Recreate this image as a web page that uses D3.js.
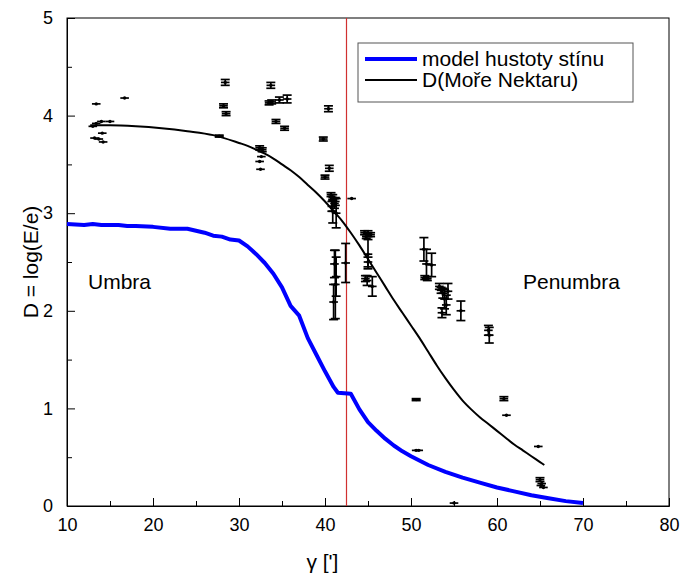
<!DOCTYPE html>
<html><head><meta charset="utf-8">
<script src="https://cdn.jsdelivr.net/npm/d3@7"></script>
<style>body{margin:0;background:#fff}svg{display:block;font-family:"Liberation Sans",Arial,sans-serif}</style>
</head><body>
<svg id="c" width="680" height="579"></svg>
<script>
// Model curve (blue)
const modelGamma = [10,12,13,14,16,17,18,20,22,24,25,26,27,28,29,30,31,32,33,34,35,36,37,38,39,40,41,41.5,43,44,45,46,47,48,49,50,52,54,56,58,60,62,64,66,68,70];
const modelD     = [2.89,2.88,2.89,2.88,2.88,2.87,2.87,2.86,2.84,2.84,2.82,2.80,2.77,2.76,2.73,2.72,2.66,2.58,2.49,2.38,2.24,2.05,1.95,1.72,1.55,1.38,1.22,1.16,1.15,0.99,0.86,0.77,0.69,0.62,0.56,0.51,0.42,0.35,0.29,0.24,0.19,0.15,0.11,0.08,0.05,0.03];
// D(Moře Nektaru) curve (black)
const nekGamma = [12.7,15,18,21,24,27,30,31,32,33,34,35,36,37,38,39,40,41,42,43,44,45,46,47,48,49,50,51,52,53,54,55,56,57,58,59,60,61,62,63,64,65,65.5];
const nekD     = [3.90,3.90,3.89,3.87,3.84,3.80,3.72,3.69,3.65,3.61,3.56,3.50,3.44,3.37,3.29,3.21,3.12,3.02,2.92,2.80,2.67,2.53,2.39,2.25,2.11,1.98,1.85,1.72,1.58,1.44,1.31,1.19,1.08,0.99,0.91,0.84,0.77,0.70,0.63,0.57,0.51,0.45,0.42];
// Measured points
const ptGamma = [13.4,16.7,15.0,14.0,13.4,13.0,14.1,13.2,13.7,14.2,
  28.4,28.2,28.5,27.7,33.7,33.5,33.8,34.7,35.6,34.3,35.3,32.4,32.7,32.6,32.4,32.5,
  40.4,39.8,40.5,40.0,40.7,40.9,41.1,40.8,41.2,40.9,41.3,43.1,
  41.1,41.3,41.2,41.0,42.4,
  44.6,45.0,45.3,44.8,45.0,45.0,44.9,45.5,44.7,
  51.5,51.8,52.4,51.6,51.9,53.3,53.5,53.7,53.9,54.1,53.6,54.3,55.8,
  50.6,60.8,61.1,64.8,50.6,50.9,65.0,65.2,65.4,65.1,55.0,59.0,59.1];
const ptD = [4.12,4.18,3.94,3.94,3.92,3.89,3.82,3.77,3.76,3.73,
  4.34,4.10,4.02,3.79,4.31,4.13,4.14,4.16,4.17,3.94,3.87,3.67,3.65,3.58,3.53,3.45,
  4.07,3.76,3.46,3.37,3.19,3.16,3.10,3.07,3.12,3.02,3.00,3.15,
  2.48,2.35,2.27,2.09,2.49,
  2.80,2.79,2.78,2.76,2.58,2.50,2.31,2.25,2.33,
  2.63,2.48,2.47,2.34,2.33,2.25,2.21,2.18,2.12,2.06,1.98,2.20,2.00,
  1.09,1.10,0.93,0.61,0.57,0.57,0.27,0.23,0.19,0.21,0.03,1.80,1.75];
const ptErr = [0,0,0,0,0,0,0,0,0,0,
  0.03,0.02,0.02,0.01,0.03,0.02,0.02,0.03,0.04,0.02,0.02,0.02,0.02,0,0,0,
  0.03,0.02,0.03,0.02,0.02,0.03,0.05,0.05,0.04,0.12,0.15,0,
  0.14,0.2,0.35,0.18,0.2,
  0.02,0.03,0.02,0.02,0.15,0.05,0.05,0.1,0.03,
  0.12,0.15,0.12,0.02,0.02,0.03,0.03,0.05,0.1,0.1,0.05,0.08,0.1,
  0.01,0.02,0,0,0,0,0.02,0,0,0,0,0.05,0.08];
const xTicks = [10,20,30,40,50,60,70,80];
const yTicks = [0,1,2,3,4,5];
const umbraLine = 42.5;
const legendLabels = ["model hustoty stínu","D(Moře Nektaru)"];

const svg = d3.select("#c");
const L=67,R=669,T=18,B=506;
const x = d3.scaleLinear().domain([10,80]).range([L,R]);
const y = d3.scaleLinear().domain([0,5]).range([B,T]);

// frame
svg.append("rect").attr("x",L).attr("y",T).attr("width",R-L).attr("height",B-T)
  .attr("fill","none").attr("stroke","#000").attr("stroke-width",1);

// axes (ticks inward)
const xAxis = d3.axisBottom(x).tickValues(xTicks).tickSize(-8).tickPadding(12).tickFormat(d3.format("d"));
const gx = svg.append("g").attr("transform",`translate(0,${B})`).call(xAxis);
const xMinor = d3.axisBottom(x).tickValues(d3.range(15,80,10)).tickSize(-5).tickFormat("");
svg.append("g").attr("transform",`translate(0,${B})`).call(xMinor).select(".domain").remove();
const yAxis = d3.axisLeft(y).tickValues(yTicks).tickSize(-8).tickPadding(14).tickFormat(d3.format("d"));
svg.append("g").attr("transform",`translate(${L},0)`).call(yAxis);
const yMinor = d3.axisLeft(y).tickValues([0.5,1.5,2.5,3.5,4.5]).tickSize(-5).tickFormat("");
svg.append("g").attr("transform",`translate(${L},0)`).call(yMinor).select(".domain").remove();
svg.selectAll(".tick text").attr("font-size",18).attr("fill","#000").attr("font-family","Liberation Sans, Arial, sans-serif");
svg.selectAll(".tick line").attr("stroke","#000");
svg.selectAll(".domain").attr("stroke","#000");
gx.selectAll(".tick text").filter(d=>d===80).attr("text-anchor","end").attr("dx",10);

// red vertical line
svg.append("line").attr("x1",x(umbraLine)).attr("x2",x(umbraLine)).attr("y1",T).attr("y2",B)
  .attr("stroke","#d03030").attr("stroke-width",1.2);

// points with error bars
const pts = ptGamma.map((g,i)=>({g,d:ptD[i],e:ptErr[i]}));
const pg = svg.append("g").attr("stroke","#000").attr("stroke-width",1.7);
pts.forEach(p=>{
  pg.append("line").attr("x1",x(p.g-0.5)).attr("x2",x(p.g+0.5)).attr("y1",y(p.d)).attr("y2",y(p.d));
  if(p.e>0){
    pg.append("line").attr("x1",x(p.g)).attr("x2",x(p.g)).attr("y1",y(p.d-p.e)).attr("y2",y(p.d+p.e));
    [p.d-p.e,p.d+p.e].forEach(v=>pg.append("line").attr("x1",x(p.g)-4.5).attr("x2",x(p.g)+4.5).attr("y1",y(v)).attr("y2",y(v)));
  }
  pg.append("circle").attr("cx",x(p.g)).attr("cy",y(p.d)).attr("r",1.7).attr("fill","#000").attr("stroke","none");
});

// curves
const lineM = d3.line().x((d,i)=>x(modelGamma[i])).y(d=>y(d));
svg.append("path").attr("d",lineM(modelD)).attr("fill","none").attr("stroke","#0000ff").attr("stroke-width",4).attr("stroke-linejoin","round");
const lineN = d3.line().x((d,i)=>x(nekGamma[i])).y(d=>y(d)).curve(d3.curveMonotoneX);
svg.append("path").attr("d",lineN(nekD)).attr("fill","none").attr("stroke","#000").attr("stroke-width",2);

// region labels
svg.append("text").attr("x",88).attr("y",289).attr("font-size",21).text("Umbra");
svg.append("text").attr("x",523).attr("y",289).attr("font-size",21).text("Penumbra");

// legend
svg.append("rect").attr("x",358).attr("y",43).attr("width",275).attr("height",59).attr("fill","#fff").attr("stroke","#555").attr("stroke-width",1);
const legColors=["#0000ff","#000"], legW=[4,2];
legendLabels.forEach((t,i)=>{
  const yy = 59 + i*21;
  svg.append("line").attr("x1",365).attr("x2",417).attr("y1",yy).attr("y2",yy).attr("stroke",legColors[i]).attr("stroke-width",legW[i]);
  svg.append("text").attr("x",422).attr("y",yy+7).attr("font-size",21).text(t);
});

// axis titles
svg.append("text").attr("transform","translate(38,262) rotate(-90)").attr("text-anchor","middle").attr("font-size",21).text("D = log(E/e)");
svg.append("text").attr("x",x(39.7)).attr("y",569).attr("text-anchor","middle").attr("font-size",21).text("γ [']");
</script>
</body></html>
